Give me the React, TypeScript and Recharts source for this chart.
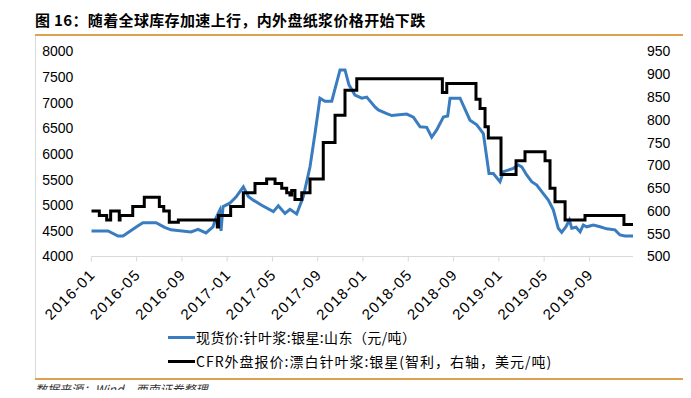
import { LineChart, Line, XAxis, YAxis } from 'recharts'

// months since 2016-01 (fractional) and price
const spotMonths = [0, 1.48, 2.36, 2.8, 4.13, 4.57, 5.72, 6.48, 7.04, 8.81, 9.43, 10.13, 10.75, 11.01, 11.34, 11.46, 11.63, 12.23, 12.78, 13.43, 13.87, 14.31, 15.05, 16.08, 16.52, 17.11, 17.55, 18.14, 18.73, 19.32, 19.76, 20.2, 20.64, 21.24, 21.97, 22.41, 22.76, 23.29, 23.89, 24.33, 25.06, 25.35, 26.1, 26.54, 27.86, 28.45, 29.04, 29.63, 30.07, 30.51, 31.1, 31.48, 31.69, 32.57, 33.45, 34.05, 34.63, 35.13, 35.51, 36.1, 36.4, 37.28, 37.72, 38.02, 38.46, 38.9, 39.35, 39.79, 40.37, 40.81, 41.25, 41.55, 41.93, 42.23, 42.44, 42.82, 43.18, 43.46, 43.76, 44.35, 44.94, 45.53, 46.26, 46.7, 47.14, 47.59, 47.85]
const spotPrices = [4500, 4500, 4400, 4400, 4600, 4660, 4660, 4570, 4520, 4480, 4530, 4460, 4580, 4750, 4900, 4500, 4970, 5040, 5160, 5360, 5170, 5100, 5000, 4875, 4990, 4840, 4920, 4830, 5170, 5750, 6400, 7090, 7030, 7030, 7640, 7640, 7350, 7150, 7090, 7110, 6920, 6860, 6790, 6750, 6780, 6720, 6530, 6520, 6330, 6470, 6720, 6740, 7090, 7090, 6660, 6570, 6400, 5620, 5620, 5460, 5655, 5720, 5785, 5750, 5590, 5460, 5395, 5265, 5100, 4910, 4550, 4470, 4580, 4710, 4550, 4570, 4480, 4615, 4580, 4615, 4580, 4540, 4520, 4420, 4400, 4400, 4400]

const cfrMonths = [0, 0.71, 1.36, 1.71, 2.47, 2.54, 3.66, 4.68, 6.01, 6.4, 6.89, 7.69, 11.13, 11.24, 12.31, 13.43, 14.46, 15.49, 16.23, 16.82, 17.26, 17.55, 17.7, 17.99, 18.59, 19.32, 20.49, 21.53, 22.41, 23.45, 31.01, 31.4, 33.98, 34.34, 34.78, 35.07, 36.19, 37.52, 38.31, 40.08, 40.52, 40.96, 41.85, 43.61, 47.05, 47.85]
const cfrPrices = [600, 590, 580, 600, 580, 590, 610, 630, 610, 600, 575, 580, 565, 590, 610, 640, 660, 670, 660, 650, 640, 635, 645, 625, 640, 670, 750, 810, 865, 890, 860, 880, 845, 825, 785, 760, 680, 710, 730, 710, 650, 620, 580, 590, 570, 570]

const tickMonths = [0, 4, 8, 12, 16, 20, 24, 28, 32, 36, 40, 44]
const tickLabels = ['2016-01', '2016-05', '2016-09', '2017-01', '2017-05', '2017-09', '2018-01', '2018-05', '2018-09', '2019-01', '2019-05', '2019-09']
const leftTicks = [4000, 4500, 5000, 5500, 6000, 6500, 7000, 7500, 8000]
const rightTicks = [500, 550, 600, 650, 700, 750, 800, 850, 900, 950]

const spotName = '现货价:针叶浆:银星:山东（元/吨）'
const cfrName = 'CFR外盘报价:漂白针叶浆:银星(智利，右轴，美元/吨)'

const spotData = spotMonths.map((m, i) => ({ m, v: spotPrices[i] }))
const cfrData = cfrMonths.map((m, i) => ({ m, v: cfrPrices[i] }))

const BLUE = '#3a7cc0'
const CJK = '"Noto Sans CJK SC", sans-serif'
const NUM = '"Liberation Sans", Arial, sans-serif'

function DateTick({ x, y, payload }: any) {
  const label = tickLabels[tickMonths.indexOf(payload.value)] ?? ''
  return (
    <text
      x={x + 5}
      y={y + 12}
      transform={`rotate(-45 ${x + 5} ${y + 12})`}
      textAnchor="end"
      fontSize={15}
      letterSpacing={1.3}
      fontFamily={NUM}
      fill="#000"
    >
      {label}
    </text>
  )
}

function LegendRow({ color, text, top, spacing }: { color: string; text: string; top: number; spacing: number }) {
  return (
    <div style={{ position: 'absolute', left: 168, top, height: 20, display: 'flex', alignItems: 'center' }}>
      <div style={{ width: 27, height: 3, background: color }} />
      <span style={{ fontFamily: CJK, fontSize: 14, lineHeight: '20px', color: '#000', marginLeft: 1, letterSpacing: spacing, whiteSpace: 'nowrap' }}>{text}</span>
    </div>
  )
}

export default function App() {
  return (
    <div style={{ position: 'relative', width: 691, height: 398, margin: -8, background: '#fff', overflow: 'hidden' }}>
      <div style={{ position: 'absolute', left: 35, top: 10, fontFamily: CJK, fontSize: 15, fontWeight: 700, letterSpacing: 0.35, lineHeight: '20px', whiteSpace: 'nowrap' }}>
        图 16：随着全球库存加速上行，内外盘纸浆价格开始下跌
      </div>
      <div style={{ position: 'absolute', left: 35, top: 34, width: 656, height: 2, background: '#e0a24e' }} />
      <div style={{ position: 'absolute', left: 35, top: 36, width: 647, height: 342, borderLeft: '1px solid #d9d9d9', borderRight: '1px solid #d9d9d9' }} />
      <div style={{ position: 'absolute', left: 35, top: 378, width: 656, height: 2, background: '#e0a24e' }} />
      <div style={{ position: 'absolute', left: 35, top: 381, fontFamily: CJK, fontSize: 12, fontStyle: 'italic', color: '#333', whiteSpace: 'nowrap', lineHeight: '15px' }}>
        数据来源：Wind，西南证券整理
      </div>

      <div style={{ position: 'absolute', left: 0, top: 0 }}>
        <LineChart width={691} height={340} margin={{ top: 51.5, right: 8, bottom: 23.5, left: 41.3 }}>
          <XAxis
            dataKey="m"
            type="number"
            domain={[0, 47.85]}
            allowDataOverflow
            ticks={tickMonths}
            interval={0}
            height={60}
            stroke="#d9d9d9"
            tickSize={5}
            tick={<DateTick />}
          />
          <YAxis
            yAxisId="left"
            domain={[4000, 8000]}
            ticks={leftTicks}
            width={50}
            axisLine={false}
            tickLine={false}
            tickMargin={12}
            tick={{ fontSize: 14, fill: '#000', fontFamily: NUM }}
          />
          <YAxis
            yAxisId="right"
            orientation="right"
            domain={[500, 950]}
            ticks={rightTicks}
            width={50}
            axisLine={false}
            tickLine={false}
            tickMargin={8}
            tick={{ fontSize: 14, fill: '#000', fontFamily: NUM }}
          />
          <Line
            yAxisId="left"
            data={spotData}
            dataKey="v"
            type="linear"
            stroke={BLUE}
            strokeWidth={3}
            dot={false}
            isAnimationActive={false}
          />
          <Line
            yAxisId="right"
            data={cfrData}
            dataKey="v"
            type="stepAfter"
            stroke="#000"
            strokeWidth={3}
            dot={false}
            isAnimationActive={false}
          />
        </LineChart>
      </div>

      <LegendRow color={BLUE} text={spotName} top={327} spacing={0.4} />
      <LegendRow color="#000" text={cfrName} top={351} spacing={1} />
    </div>
  )
}
